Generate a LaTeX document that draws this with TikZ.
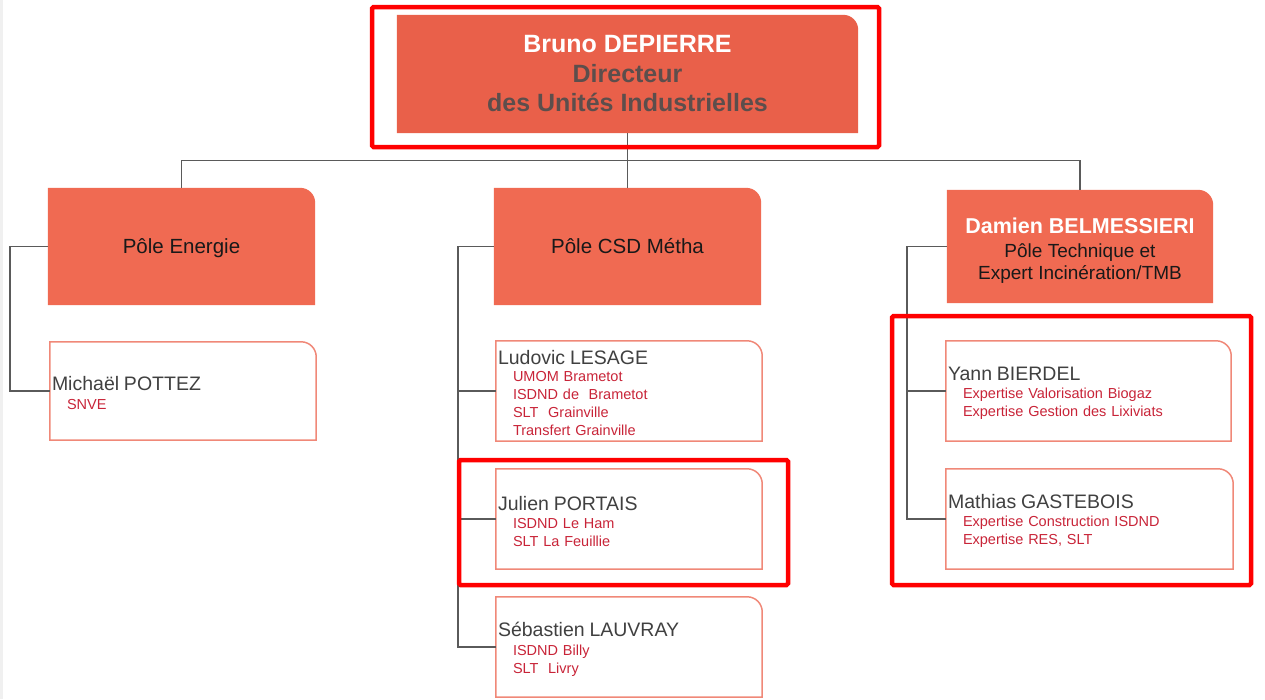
\documentclass[tikz,border=0pt]{standalone}
\usepackage{fontspec}
\setmainfont{Liberation Sans}
\usetikzlibrary{backgrounds}

\definecolor{topfill}{RGB}{233,96,74}
\definecolor{polefill}{RGB}{240,106,82}
\definecolor{boxline}{RGB}{240,136,120}
\definecolor{sitered}{RGB}{200,36,56}
\definecolor{namegray}{RGB}{64,64,64}
\definecolor{titlegray}{RGB}{92,78,76}
\definecolor{linkgray}{RGB}{90,90,90}

\newcommand{\site}[1]{\hspace*{15pt}{\color{sitered}#1}}
\newcommand{\who}[1]{{\fontsize{19.5}{22}\selectfont\color{namegray}\rule{0pt}{18.5pt}#1}}

\begin{document}
\begin{tikzpicture}[x=1pt, y=-1pt,
	pole/.style={rectangle, minimum width=267pt, minimum height=117pt, align=center, inner sep=0pt, text=black!90, font=\fontsize{20.5}{23}\selectfont},
	person/.style={rectangle, text width=262pt, minimum height=100pt, inner xsep=2pt, inner ysep=0pt, align=left, font=\fontsize{14.5}{18}\selectfont},
	link/.style={draw=linkgray, line width=1.4pt},
	hilite/.style={draw=red, line width=4.5pt, rounded corners=1.5pt}]
	\useasboundingbox (0,0) rectangle (1265,699);
	\fill[black!6] (0,0) rectangle (3,699);

	\node[pole, minimum width=461pt, minimum height=118pt, font=\bfseries\fontsize{25}{29.5}\selectfont] (top) at (627.5,74) {{\color{white}Bruno DEPIERRE}\\{\color{titlegray}Directeur}\\{\color{titlegray}des Unités Industrielles}};
	\node[pole, text height=19pt, text depth=4.3pt] (ener) at (181.5,246.5) {Pôle Energie};
	\node[pole, text height=19pt, text depth=4.3pt] (csd) at (627.5,246.5) {Pôle CSD Métha};
	\node[pole, minimum width=266pt, minimum height=113pt, font=\fontsize{19}{22.5}\selectfont] (tech) at (1080,246.5) {{\color{white}\bfseries\fontsize{21.5}{23}\selectfont\rule{0pt}{24pt}Damien BELMESSIERI}\\[1pt]Pôle Technique et\\Expert Incinération/TMB};

	\node[person, minimum height=98pt] (pottez) at (183,391) {\who{Michaël POTTEZ}\\[1pt]\site{SNVE}};
	\node[person] (lesage) at (629,391) {\who{Ludovic LESAGE}\\[-1pt]\site{UMOM Brametot}\\\site{ISDND de\ \ Brametot}\\\site{SLT\ \ Grainville}\\\site{Transfert Grainville}};
	\node[person] (portais) at (629,519) {\who{Julien PORTAIS}\\[0pt]\site{ISDND Le Ham}\\\site{SLT La Feuillie}};
	\node[person] (lauvray) at (629,647) {\who{Sébastien LAUVRAY}\\[1pt]\site{ISDND Billy}\\\site{SLT\ \ Livry}};
	\node[person, text width=281pt] (bierdel) at (1088.5,391) {\who{Yann BIERDEL}\\[0pt]\site{Expertise Valorisation Biogaz}\\\site{Expertise Gestion des Lixiviats}};
	\node[person, text width=283pt] (gastebois) at (1089.5,519) {\who{Mathias GASTEBOIS}\\[0pt]\site{Expertise Construction ISDND}\\\site{Expertise RES, SLT}};

	% box shapes, one rounded corner each
	\begin{scope}[on background layer]
		\foreach \n in {ener,csd,tech}
			\fill[fill=polefill] (\n.south west) -- (\n.north west) -- ([xshift=-15pt]\n.north east) arc[start angle=90, end angle=0, radius=15pt] -- (\n.south east) -- cycle;
		\fill[fill=topfill] (top.south west) -- (top.north west) -- ([xshift=-15pt]top.north east) arc[start angle=90, end angle=0, radius=15pt] -- (top.south east) -- cycle;
	\end{scope}
	\foreach \n in {pottez,lesage,portais,lauvray,bierdel,gastebois}
		\draw[draw=boxline, line width=1.5pt] (\n.south west) -- (\n.north west) -- ([xshift=-15pt]\n.north east) arc[start angle=90, end angle=0, radius=15pt] -- (\n.south east) -- cycle;

	% connectors
	\draw[link] (top.south) -- ++(0,27) coordinate (bus) -| (ener.north);
	\draw[link] (bus) -| (tech.north);
	\draw[link] (bus) -- (csd.north);
	\draw[link] (ener.west) -- ++(-38,0) |- (pottez.west);
	\draw[link] (csd.west) -- ++(-36,0) coordinate (csdbus) |- (lauvray.west);
	\draw[link] (csdbus) |- (lesage.west);
	\draw[link] (csdbus) |- (portais.west);
	\draw[link] (tech.west) -- ++(-40,0) coordinate (techbus) |- (gastebois.west);
	\draw[link] (techbus) |- (bierdel.west);

	% highlights
	\draw[hilite] (372,7) rectangle (879,147);
	\draw[hilite] (459,460) rectangle (788,585);
	\draw[hilite] (892,316) rectangle (1251,585);
\end{tikzpicture}
\end{document}
